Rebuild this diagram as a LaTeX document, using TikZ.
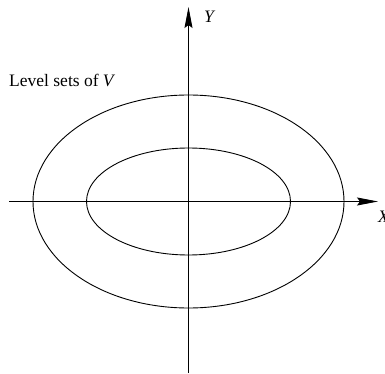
\documentclass[tikz,border=0pt]{standalone}
\usepackage{fontspec}
\setmainfont{Liberation Serif}
\usetikzlibrary{arrows.meta}
\begin{document}
\begin{tikzpicture}[x=1pt,y=-1pt,
  axis/.style={line width=0.9pt,-{Stealth[length=21pt,width=8pt,inset=3pt]}},
  curve/.style={line width=0.9pt},
  lbl/.style={font=\fontsize{17.5}{20}\selectfont,inner sep=0pt}]
\useasboundingbox (0,0) rectangle (385,374);
\coordinate (o) at (188.5,201.5);
\coordinate (xs) at (9,201.5);
\coordinate (xe) at (378,201.5);
\coordinate (ys) at (188.5,373);
\coordinate (ye) at (188.5,7);
\draw[curve] (o) ellipse [x radius=155.5, y radius=106.5];
\draw[curve] (o) ellipse [x radius=102, y radius=53.5];
\draw[axis] (xs) -- (xe);
\draw[axis] (ys) -- (ye);
\node[lbl,anchor=west] (lx) at (378,217) {\itshape X};
\node[lbl] (ly) at (209,17) {\itshape Y};
\node[lbl,anchor=west] (lv) at (9,80) {Level sets of \textit{V}};
\end{tikzpicture}
\end{document}
